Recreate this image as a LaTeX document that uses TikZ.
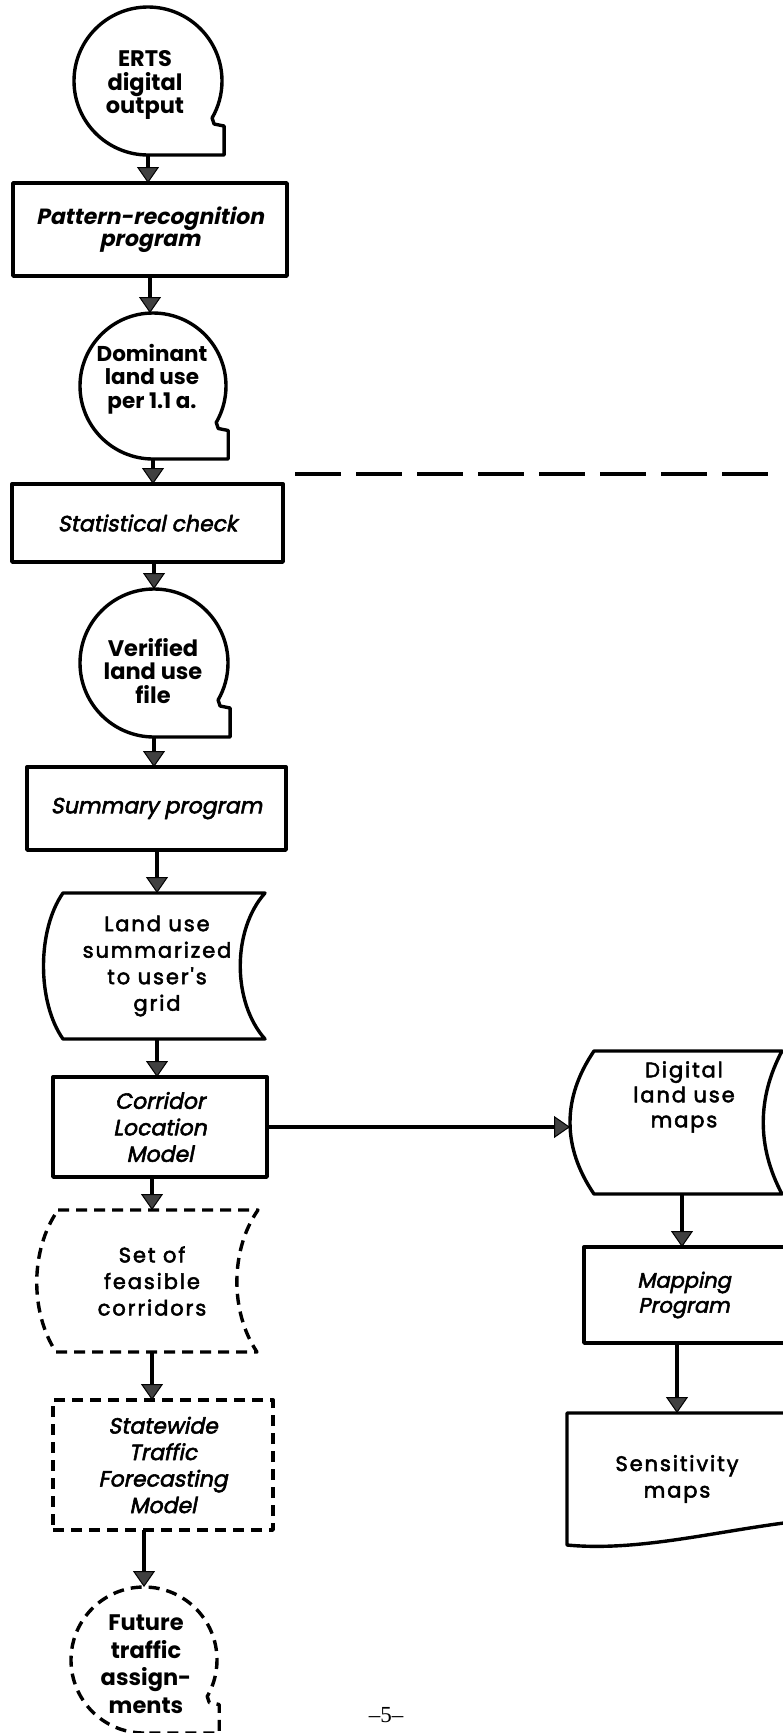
\documentclass[tikz,border=0pt]{standalone}
\usepackage{fontspec}
\usetikzlibrary{arrows.meta}
\newfontfamily\popf{Poppins}
\newfontfamily\popmed{Poppins}[FakeBold=2.5,LetterSpace=9]
\newfontfamily\popobl{Poppins}[FakeSlant=0.2,FakeBold=2.5]
\newfontfamily\popoblb{Poppins}[FakeSlant=0.2]
\newfontfamily\pgnum{Liberation Serif}
\tikzset{
  shp/.style={line width=3.4pt, line join=round},
  dsh/.style={shp, dash pattern=on 11pt off 7pt},
  arr/.style={line width=3.4pt, -{Triangle[length=16pt,width=22pt,line width=1pt,fill=black!75]}},
  anch/.style={draw=none, rectangle, inner sep=0pt, outer sep=0pt},
  box/.style={draw, shp, rectangle, inner sep=0pt, outer sep=0pt},
  tapec/.style={circle, draw=none, inner sep=0pt, outer sep=0pt},
  ctxt/.style={align=center, font=\popf\bfseries\fontsize{22.5}{23.5}\selectfont},
  ptxt/.style={align=center, font=\popobl\fontsize{22}{26.5}\selectfont},
  dtxt/.style={align=center, font=\popmed\fontsize{21}{26.5}\selectfont},
}
\newcommand\tapedraw[3]{\draw[#3] (#1.south) arc[start angle=90,end angle=390,radius=#2] -- ++(2,6) -- ++(10,2) |- (#1.south) -- cycle;}
\begin{document}
\begin{tikzpicture}[x=1pt,y=-1pt]
\useasboundingbox (0,0) rectangle (783,1733);
\clip (0,0) rectangle (783,1733);

% ERTS
\node[tapec, minimum size=148pt] (erts) at (148,81) {};
\node[ctxt] (ertst) at (145,85) {ERTS\\digital\\output};
\tapedraw{erts}{74}{shp}

% Pattern recognition
\node[box, minimum width=274pt, minimum height=93pt, align=center, font=\popoblb\bfseries\fontsize{22}{21.5}\selectfont] (pat) at (150,229.5) {Pattern-recognition\\program};
\draw[arr] (erts.south) -- (erts.south |- pat.north);

% Dominant
\node[tapec, minimum size=146pt] (dom) at (153,386) {};
\node[ctxt, font=\popf\bfseries\fontsize{21.5}{23.5}\selectfont] (domt) at (152,379) {Dominant\\land use\\per 1.1 a.};
\tapedraw{dom}{73}{shp}
\draw[arr] (pat.south) -- (pat.south |- dom.north);

% Statistical check
\node[box, minimum width=271pt, minimum height=78pt, ptxt] (stat) at (147.5,523) {Statistical check};
\draw[arr] (dom.south) -- (dom.south |- stat.north);

% Verified
\node[tapec, minimum size=148pt] (ver) at (154,663) {};
\node[ctxt] (vert) at (153,671) {Verified\\land use\\file};
\tapedraw{ver}{74}{shp}
\draw[arr] (stat.south -| ver.south) -- (ver.north);

% Summary program
\node[box, minimum width=259pt, minimum height=83pt, ptxt] (sum) at (156.5,808.5) {Summary program};
\draw[arr] (ver.south) -- (ver.south |- sum.north);

% Land use summarized
\draw[shp] (63,893) -- (265,893) .. controls (232,930) and (232,1002) .. (265,1039) -- (63,1039) .. controls (37,1002) and (37,930) .. (63,893) -- cycle;
\node[anch, dtxt, minimum height=146pt] (lus) at (157,966) {Land use\\summarized\\to user's\\grid};
\draw[arr] (sum.south -| lus.north) -- (lus.north);

% Corridor Location Model
\node[box, minimum width=214pt, minimum height=100pt, ptxt] (cor) at (160,1127) {Corridor\\Location\\Model};
\draw[arr] (lus.south) -- (lus.south |- cor.north);

% Set of feasible corridors (dashed)
\draw[dsh] (58,1210) -- (258,1210) .. controls (230,1250) and (230,1312) .. (257,1352) -- (56,1352) .. controls (30,1312) and (30,1250) .. (58,1210) -- cycle;
\node[anch, dtxt, minimum height=142pt] (set) at (152,1281) {Set of\\feasible\\corridors};
\draw[arr] (cor.south -| set.north) -- (set.north);

% Statewide Traffic Forecasting Model (dashed)
\node[box, dsh, minimum width=220pt, minimum height=130pt, ptxt] (sw) at (163,1465) {Statewide\\Traffic\\Forecasting\\Model};
\draw[arr] (set.south) -- (set.south |- sw.north);

% Future traffic assignments (dashed)
\node[tapec, minimum size=146pt] (fut) at (144,1660) {};
\node[ctxt, font=\popf\bfseries\fontsize{22.5}{27.5}\selectfont] (futt) at (146,1664) {Future\\traffic\\assign-\\ments};
\tapedraw{fut}{73}{dsh}
\draw[arr] (sw.south -| fut.north) -- (fut.north);

% Digital land use maps
\draw[shp] (594,1051) -- (782,1051) .. controls (757,1098) and (757,1147) .. (782,1194) -- (594,1194) .. controls (562,1147) and (562,1098) .. (594,1051) -- cycle;
\node[anch, minimum width=224pt, minimum height=143pt] (dig) at (682,1122.5) {};
\node[dtxt, font=\popmed\fontsize{21}{25}\selectfont] (digt) at (684,1097) {Digital\\land use\\maps};
\draw[arr] (cor.east) -- (cor.east -| dig.west);

% Mapping Program
\draw[shp] (584,1247) rectangle (840,1343);
\node[anch, ptxt, font=\popobl\fontsize{21}{25}\selectfont, minimum height=96pt] (map) at (684,1295) {Mapping\\Program};
\draw[arr] (dig.south) -- (dig.south |- map.north);

% Sensitivity maps
\draw[shp] (800,1521) .. controls (720,1530) and (640,1552) .. (567,1545) -- (567,1413) -- (820,1413);
\node[anch, dtxt, minimum height=132pt] (sen) at (677,1479) {Sensitivity\\maps};
\draw[arr] (sen.north |- map.south) -- (sen.north);

% dashed separator
\coordinate (dl1) at (295,474);
\coordinate (dl2) at (790,474);
\draw[line width=3.2pt, dash pattern=on 46pt off 15pt] (dl1) -- (dl2);

% page number
\node[font=\pgnum\fontsize{23}{23}\selectfont] (pg) at (386,1715) {–5–};
\end{tikzpicture}
\end{document}
